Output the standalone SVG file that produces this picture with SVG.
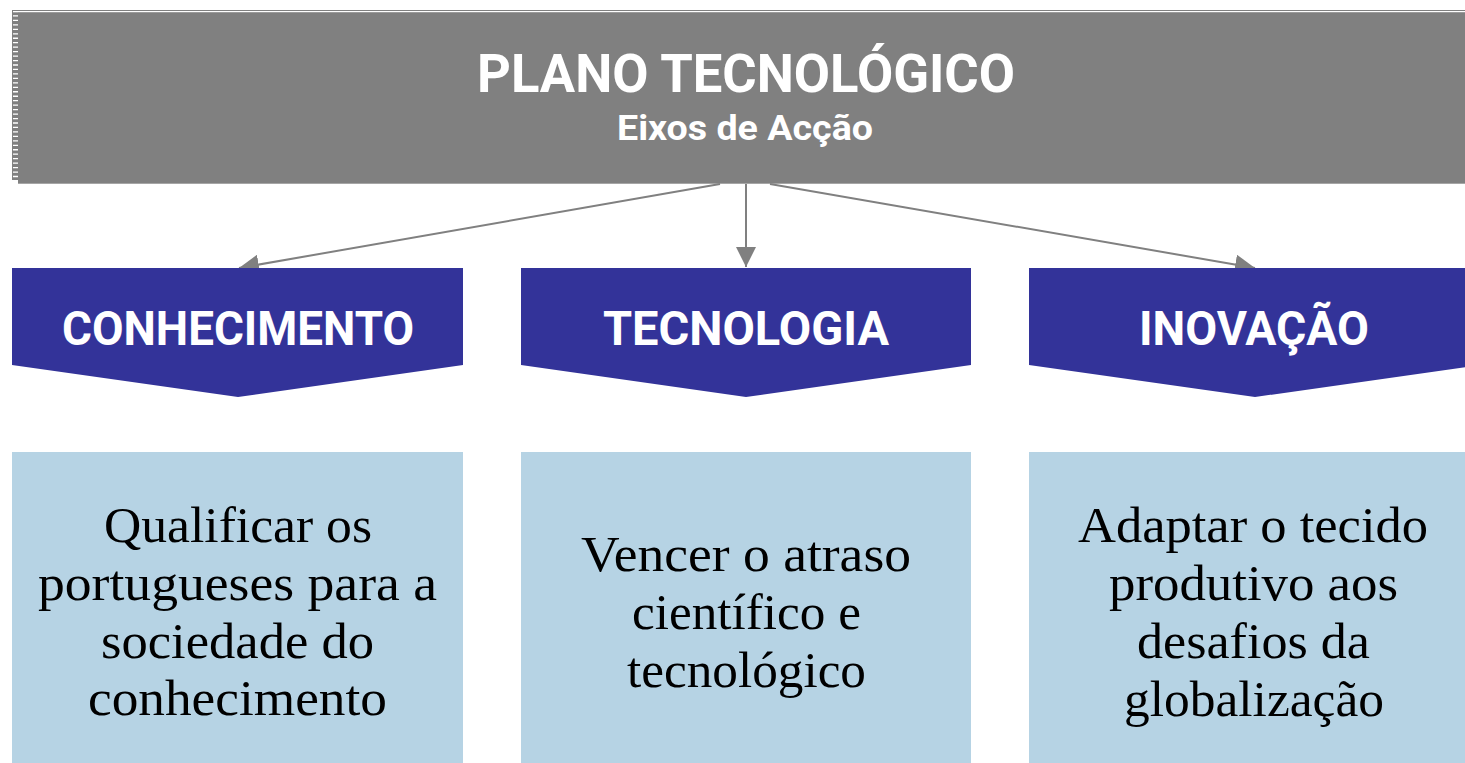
<svg xmlns="http://www.w3.org/2000/svg" width="1465" height="763" viewBox="0 0 1465 763">
<style>
.hdr{fill:#808080}
.chev{fill:#333399}
.box{fill:#b6d3e4}
.t1{font-family:Roboto,"Liberation Sans",sans-serif;font-weight:bold;fill:#ffffff;text-anchor:middle}
.body{font-family:"Liberation Serif","Times New Roman",serif;font-size:50px;fill:#000000;text-anchor:middle}
.conn{stroke:#808080;stroke-width:2;fill:none;marker-end:url(#arr)}
</style>
<defs>
<marker id="arr" markerUnits="userSpaceOnUse" markerWidth="20" markerHeight="20" refX="20" refY="10" orient="auto" viewBox="0 0 20 20">
<path d="M0,0 L20,10 L0,20 Z" fill="#808080"/>
</marker>
</defs>
<rect width="1465" height="763" fill="#ffffff"/>
<g id="header">
<rect class="hdr" x="12" y="10" width="1453" height="170"/>
<rect x="13" y="11" width="1452" height="1.3" fill="#ffffff"/>
<rect class="hdr" x="18" y="12.7" width="1447" height="171"/>
<line x1="15.5" y1="15.3" x2="15.5" y2="178" stroke="#ffffff" stroke-width="5" stroke-dasharray="1.3 3.16"/>
<text class="t1" x="746" y="92" font-size="53" textLength="538" lengthAdjust="spacingAndGlyphs">PLANO TECNOLÓGICO</text>
<text class="t1" x="745" y="140" font-size="35" textLength="256" lengthAdjust="spacingAndGlyphs">Eixos de Acção</text>
</g>
<g id="connectors">
<line class="conn" x1="720" y1="184" x2="239" y2="268"/>
<line class="conn" x1="746" y1="184" x2="746" y2="267"/>
<line class="conn" x1="770" y1="184" x2="1255" y2="268"/>
</g>
<g id="conhecimento">
<polygon class="chev" points="12,268 463,268 463,365 238,397 12,365"/>
<text class="t1" x="238" y="345" font-size="48" textLength="352" lengthAdjust="spacingAndGlyphs">CONHECIMENTO</text>
</g>
<g id="tecnologia">
<polygon class="chev" points="521,268 971,268 971,365 746,397 521,365"/>
<text class="t1" x="746" y="345" font-size="48" textLength="286" lengthAdjust="spacingAndGlyphs">TECNOLOGIA</text>
</g>
<g id="inovacao">
<polygon class="chev" points="1029,268 1481,268 1481,365 1255,397 1029,365"/>
<text class="t1" x="1254" y="345" font-size="48" textLength="230" lengthAdjust="spacingAndGlyphs">INOVAÇÃO</text>
</g>
<g id="box1">
<rect class="box" x="12" y="452" width="451" height="311"/>
<text class="body" x="238" y="542" textLength="268" lengthAdjust="spacingAndGlyphs">Qualificar os</text>
<text class="body" x="237.5" y="600" textLength="399" lengthAdjust="spacingAndGlyphs">portugueses para a</text>
<text class="body" x="237.5" y="658" textLength="273" lengthAdjust="spacingAndGlyphs">sociedade do</text>
<text class="body" x="237.5" y="715" textLength="299" lengthAdjust="spacingAndGlyphs">conhecimento</text>
</g>
<g id="box2">
<rect class="box" x="521" y="452" width="450" height="311"/>
<text class="body" x="746" y="571" textLength="330" lengthAdjust="spacingAndGlyphs">Vencer o atraso</text>
<text class="body" x="746.5" y="629" textLength="229" lengthAdjust="spacingAndGlyphs">científico e</text>
<text class="body" x="746.5" y="687" textLength="239" lengthAdjust="spacingAndGlyphs">tecnológico</text>
</g>
<g id="box3">
<rect class="box" x="1029" y="452" width="452" height="311"/>
<text class="body" x="1253" y="542" textLength="350" lengthAdjust="spacingAndGlyphs">Adaptar o tecido</text>
<text class="body" x="1253.5" y="600" textLength="289" lengthAdjust="spacingAndGlyphs">produtivo aos</text>
<text class="body" x="1253.5" y="658" textLength="233" lengthAdjust="spacingAndGlyphs">desafios da</text>
<text class="body" x="1254" y="716" textLength="260" lengthAdjust="spacingAndGlyphs">globalização</text>
</g>
</svg>
